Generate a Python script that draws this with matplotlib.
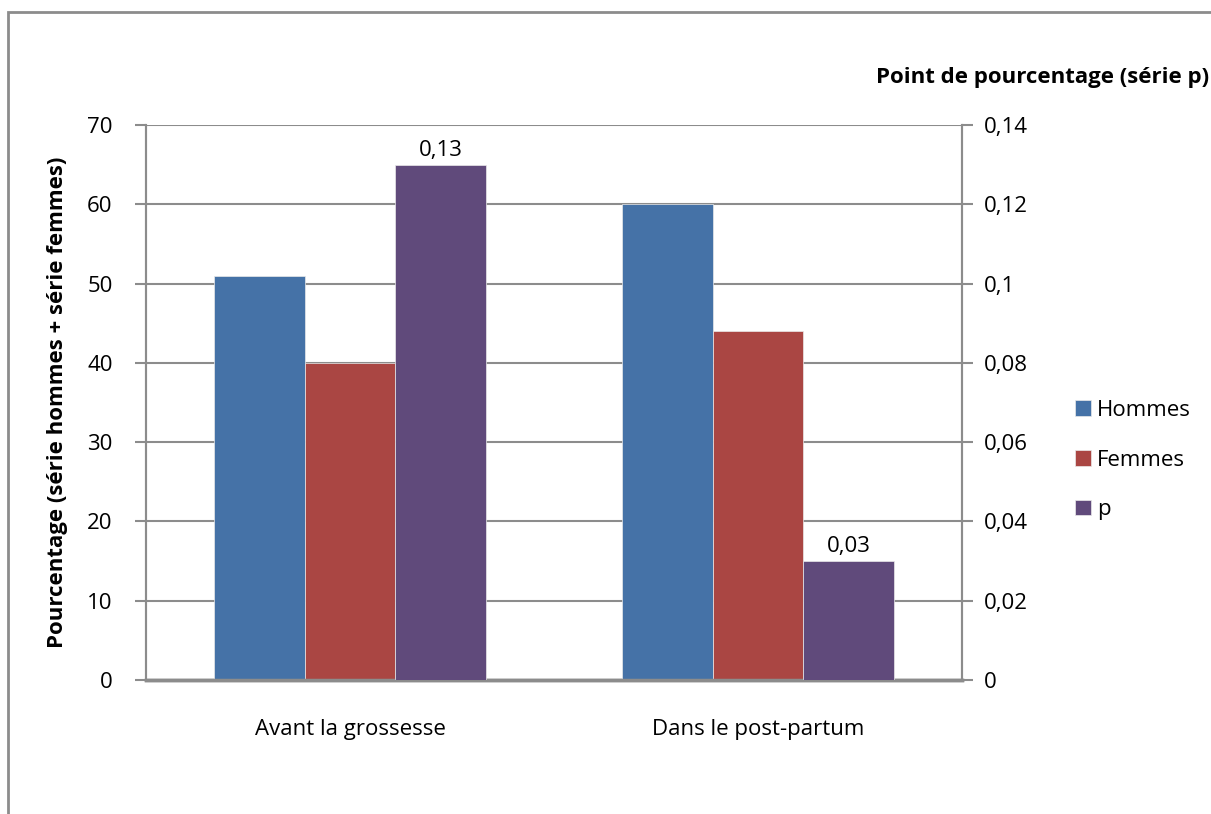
import numpy as np
import matplotlib
matplotlib.use("Agg")
import matplotlib.pyplot as plt
from matplotlib.patches import Rectangle

plt.rcParams['font.family'] = ['Open Sans', 'DejaVu Sans']

# Data
categories = ["Avant la grossesse", "Dans le post-partum"]
hommes = [51, 60]
femmes = [40, 44]
p_values = [0.13, 0.03]
left_ticks = [0, 10, 20, 30, 40, 50, 60, 70]
right_ticks = [0, 0.02, 0.04, 0.06, 0.08, 0.1, 0.12, 0.14]

c_h = "#4572A7"
c_f = "#AA4643"
c_p = "#604A7B"
gray = "#8C8C8C"
fs = 16

fig = plt.figure(figsize=(12.11, 8.14), dpi=100)

# outer chart border (cut by the image edges)
fig.patches.append(Rectangle((8 / 1211, -0.1), 1.2, 1 - 12 / 814 + 0.1,
                             transform=fig.transFigure, fill=False,
                             edgecolor=gray, linewidth=2))

ax = fig.add_axes([146 / 1211, 1 - 680 / 814, (962 - 146) / 1211, (680 - 125) / 814])
ax2 = ax.twinx()

x = np.arange(len(categories))
w = 0.222

ax.bar(x - w, hommes, w, color=c_h, edgecolor="#EAEAEA", linewidth=0.5, label="Hommes", zorder=3)
ax.bar(x, femmes, w, color=c_f, edgecolor="#EAEAEA", linewidth=0.5, label="Femmes", zorder=3)
bars_p = ax2.bar(x + w, p_values, w, color=c_p, edgecolor="#EAEAEA", linewidth=0.5, label="p", zorder=3)

for b, v in zip(bars_p, p_values):
    ax2.text(b.get_x() + b.get_width() / 2, v + 0.001, ("%.2f" % v).replace(".", ","),
             ha="center", va="bottom", fontsize=fs)

ax.set_xlim(-0.5, 1.5)
ax.set_ylim(0, 70)
ax2.set_ylim(0, 0.14)

ax.set_yticks(left_ticks)
ax.set_yticklabels([str(t) for t in left_ticks], fontsize=fs)
ax2.set_yticks(right_ticks)
ax2.set_yticklabels([("%g" % t).replace(".", ",") for t in right_ticks], fontsize=fs)

ax.set_xticks(x)
ax.set_xticklabels(categories, fontsize=fs)
ax.tick_params(axis="x", length=0, pad=28)
ax.tick_params(axis="y", length=8, color=gray, width=1.5, pad=16)
ax2.tick_params(axis="y", length=8, color=gray, width=1.5, pad=8)

ax.yaxis.grid(True, color=gray, linewidth=1.5, zorder=0)
ax.set_axisbelow(True)

for a in (ax, ax2):
    a.spines["top"].set_visible(False)
    a.spines["left"].set_color(gray)
    a.spines["right"].set_color(gray)
    a.spines["bottom"].set_color(gray)
    a.spines["left"].set_linewidth(1.5)
    a.spines["right"].set_linewidth(1.5)
    a.spines["bottom"].set_linewidth(2.5)

ax.set_ylabel("Pourcentage (série hommes + série femmes)", fontsize=fs, fontweight="bold", labelpad=14)
fig.text(1209 / 1211, 1 - 78 / 814, "Point de pourcentage (série p)", ha="right", va="center",
         fontsize=fs, fontweight="bold")

h1, l1 = ax.get_legend_handles_labels()
h2, l2 = ax2.get_legend_handles_labels()
fig.legend(h1 + h2, l1 + l2, loc="center left", bbox_to_anchor=(1055 / 1211, 1 - 460 / 814),
           frameon=False, fontsize=fs, handlelength=0.7, handleheight=0.7,
           handletextpad=0.3, labelspacing=1.3)

fig.savefig("out.png", dpi=100)
